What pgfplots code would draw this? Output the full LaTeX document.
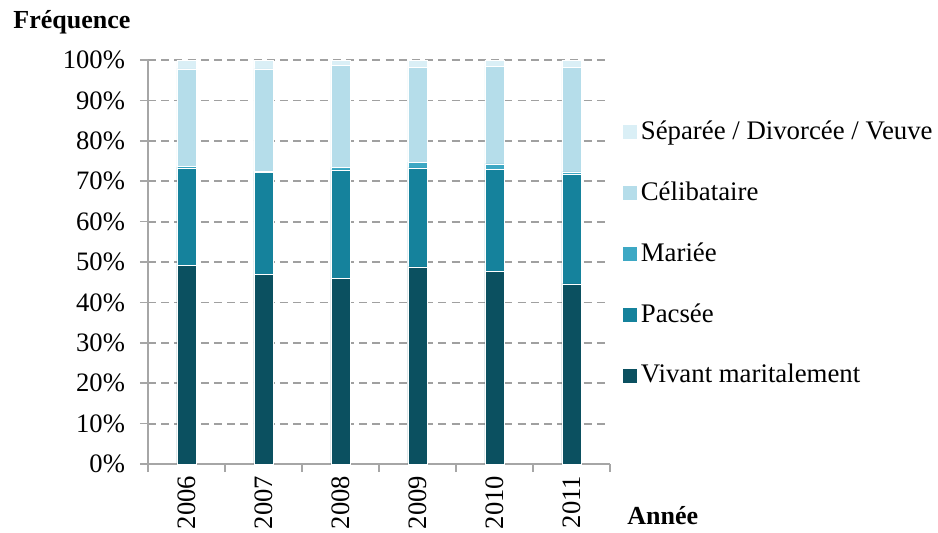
\documentclass[border=0pt]{standalone}
\usepackage{pgfplots}
\pgfplotsset{compat=1.18}
\usepackage{fontspec}
\setmainfont{Liberation Serif}
\definecolor{cV}{HTML}{0B5060}
\definecolor{cP}{HTML}{15829C}
\definecolor{cM}{HTML}{3DA8C4}
\definecolor{cC}{HTML}{B5DDEA}
\definecolor{cS}{HTML}{DAEFF6}
\definecolor{axgray}{HTML}{A6A6A6}
\definecolor{gridgray}{HTML}{A0A0A0}
\begin{document}
\fontsize{13pt}{15pt}\selectfont
\begin{tikzpicture}
\begin{axis}[
  name=ax,
  scale only axis,
  width=231pt, height=202pt,
  ybar stacked,
  bar width=9.5pt,
  xmin=-0.5, xmax=5.5,
  ymin=0, ymax=100,
  axis lines*=left,
  axis line style={axgray, line width=0.8pt},
  xtick={-0.5,0.5,1.5,2.5,3.5,4.5,5.5},
  xticklabels={},
  extra x ticks={0,1,2,3,4,5},
  extra x tick labels={2006,2007,2008,2009,2010,2011},
  extra x tick style={major tick length=0pt, grid=none,
    xticklabel style={rotate=90, anchor=east, font=\fontsize{13.3pt}{15pt}\selectfont, xshift=-1.5pt}},
  ytick={0,10,...,100},
  yticklabel={\pgfmathprintnumber{\tick}\%},
  /pgf/number format/assume math mode=true,
  yticklabel style={font=\fontsize{13.3pt}{15pt}\selectfont, xshift=-3pt},
  tick style={axgray, line width=0.8pt},
  tick align=outside,
  major tick length=4pt,
  ymajorgrids,
  grid style={gridgray, dash pattern=on 4pt off 2.6pt, line width=0.9pt},
  legend style={draw=none, fill=none, at={(1.027,0.86)}, anchor=north west,
    font=\fontsize{13.4pt}{15pt}\selectfont, row sep=15.15pt, inner sep=0pt,
    legend cell align=left},
  reverse legend,
  legend image code/.code={\fill[#1, draw=none] (0pt,-3.5pt) rectangle (7pt,3.5pt);},
  every axis plot/.append style={draw=white, line width=0.3pt},
]
\addplot[fill=cV] coordinates {(0,49.1) (1,46.9) (2,45.9) (3,48.8) (4,47.6) (5,44.6)};
\addplot[fill=cP] coordinates {(0,24.2) (1,25.2) (2,26.9) (3,24.5) (4,25.4) (5,27.1)};
\addplot[fill=cM] coordinates {(0,0.3) (1,0.4) (2,0.7) (3,1.45) (4,1.3) (5,0.6)};
\addplot[fill=cC] coordinates {(0,24.2) (1,25.3) (2,25.1) (3,23.35) (4,24.2) (5,25.8)};
\addplot[fill=cS] coordinates {(0,2.2) (1,2.2) (2,1.4) (3,1.9) (4,1.5) (5,1.9)};
\legend{Vivant maritalement,Pacsée,Mariée,Célibataire,Séparée / Divorcée / Veuve}
\end{axis}
\node[anchor=west, font=\bfseries\fontsize{13pt}{15pt}\selectfont, inner sep=0pt] at ([shift={(-67.5pt,221pt)}]ax.south west) {Fréquence};
\node[anchor=west, font=\bfseries\fontsize{13pt}{15pt}\selectfont, inner sep=0pt] at ([shift={(239.5pt,-26pt)}]ax.south west) {Année};
\pgfresetboundingbox
\path[use as bounding box] ([shift={(-74pt,-34pt)}]ax.south west) rectangle ++(469pt,266pt);
\end{tikzpicture}
\end{document}
